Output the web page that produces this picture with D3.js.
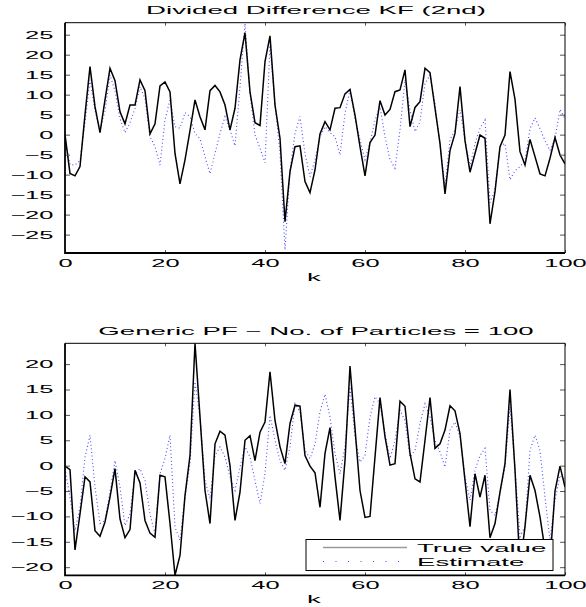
<!DOCTYPE html>
<html>
<head>
<meta charset="utf-8">
<script src="https://cdn.jsdelivr.net/npm/d3@7"></script>
<style>
  body { margin: 0; background: #fff; }
  text { font-family: "Liberation Sans", Arial, Helvetica, sans-serif; fill: #000; }
</style>
</head>
<body>
<script>
// time steps
const k = d3.range(0, 101);

// Divided Difference KF (2nd) - true value and estimate
const kfTrue = [0, -9.7, -10.3, -8, 5, 17, 7, 0.5, 8.7, 16.6,
  13.5, 5.7, 2.7, 7.4, 7.4, 13.7, 11, 0.2, 2.7, 12.2,
  13.2, 10.7, -4.7, -12.3, -6.3, 1, 8.7, 4.5, 1.2, 11,
  12.3, 10.7, 7.4, 1.2, 6.6, 18.7, 25.5, 10.7, 3, 2.3,
  18.3, 24.7, 7.4, -0.9, -21.75, -9.25, -3, -2.8, -11.75, -14.5,
  -8.8, 0.2, 3.25, 1.2, 6.6, 6.75, 10.2, 11.3, 4.9, -3,
  -10.3, -2, -0.1, 8.5, 4.9, 6.3, 10.75, 11.2, 16.2, 2,
  6.8, 8.25, 16.6, 15.5, 6.6, -2.2, -14.8, -4, 0.3, 12,
  -1.5, -9.4, -4.7, -0.1, -0.9, -22.3, -14.25, -3, -0.1, 15.75,
  8.8, -4.25, -7.6, -1.2, -5.5, -9.8, -10.3, -5.9, -0.7, -5.1,
  -7.3];
const kfEst = [-1, -7.5, -7.6, -6.5, 3, 13.7, 6, 1, 6, 14.9,
  11, 4, 0.5, 3, 6.5, 12, 9, -0.5, -3, -7.6,
  3.7, 8.7, 2, 1.6, 5.5, 4.5, 0.3, -1, -5.5, -9.8,
  -4.7, 0.3, 4.5, 1.2, -2.8, 12, 27.8, 10.3, -0.1, -3.4,
  -7, 22.4, 7.8, -4.7, -28.8, -8.8, 0.3, 4.5, -4.7, -10.5,
  -6.3, -0.5, 2, 0.5, -0.5, -5.1, 5.3, 11.2, 4, -1.3,
  -6.3, -2, 3.7, 7, -0.5, -6.3, -8.4, 1.2, 13.7, 6.2,
  0.75, 3.25, 12.8, 14.9, 7.8, -2.6, -13, -1.3, 1.2, 6.2,
  -1.3, -8, -2.2, 1.6, 3.7, -17, -13.8, -3, -2.2, -11.3,
  -9, -8, -6.5, 1.5, 4.2, 1.5, -1.5, -4, -1, 6.3,
  4];

// Generic PF - true value and estimate
const pfTrue = [-0.1, -0.8, -16.6, -9.5, -2.2, -3.2, -12.8, -13.9, -11.1, -6.2,
  -0.6, -10.5, -14.2, -12.6, -0.9, -3.4, -10.8, -13.3, -14.1, -1.9,
  -2.2, -11.4, -21.6, -17.7, -5.9, 2, 24.1, 9.6, -4.9, -11.4,
  4.3, 6.8, 6, 0, -10.8, -5.2, 5, 5.9, 1, 6.6,
  8.6, 18.5, 8.9, 3.7, 0.4, 8.3, 11.9, 11.7, 2, -0.1,
  -1.4, -8.2, 2.4, 7.5, -2.2, -10.8, 1, 19.6, 7.3, -4.9,
  -10.2, -10, 1.7, 13.4, 5.7, 0.1, 0.4, 12.7, 11.7, 2.4,
  -2.6, -3.2, 5, 13.4, 3.4, 4.3, 7, 11.8, 10.8, 6.3,
  -2.9, -12, -1.6, -6.2, -1.9, -14.2, -11.4, -5.2, 0.4, 15,
  -0.9, -20, -12, -1.9, -4.9, -10.1, -16.6, -19, -5, -0.1,
  -4.2];
const pfEst = [-0.6, -6.2, -12.8, -8.2, 1.7, 6, -4.2, -11.4, -10.8, -5.2,
  1, -4.2, -11.8, -9.5, -1.6, -0.6, -2.9, -9.5, -13.4, -1.6,
  1.4, 6, -12.1, -14.7, -6.2, 0.4, 16.5, 9.6, -2.9, -6.5,
  2, 3.7, 1.7, -2.2, -4.9, -0.3, 3.7, 1.7, -2.9, -7.5,
  -1.6, 9.9, 5, 1, -0.9, 3.7, 12.2, 10.6, 3, 1.4,
  4.3, 10.6, 14.1, 9.6, 2.4, -1.6, 3.7, 15.5, 5.7, 0.7,
  2, 9.6, 13.6, 12.2, 6.3, 1.4, 5, 10.9, 8.9, 1.7,
  3, 8.3, 12.2, 9.6, 5, 2.7, -0.3, 7, 8.6, 5.7,
  -2.2, -6.8, -0.9, 2, 3.4, -8.8, -9.8, -5.5, -0.3, 11.6,
  -0.3, -14, -12, 3, 6, 3, -6.2, -14.7, -6.8, -1.9,
  -2.9];

const xTicks = [0, 20, 40, 60, 80, 100];
const kfYTicks = [-25, -20, -15, -10, -5, 0, 5, 10, 15, 20, 25];
const pfYTicks = [-20, -15, -10, -5, 0, 5, 10, 15, 20];
const titles = ["Divided Difference KF (2nd)", "Generic PF \u2212 No. of Particles = 100"];
const xLabel = "k";
const legendLabels = ["True value", "Estimate"];

// the reference text is drawn very wide, so every label is stretched sideways
const SX = 2.4;
function stretch(sel) {
  sel.each(function () {
    const t = d3.select(this);
    const x = +t.attr("x") || 0, y = +t.attr("y") || 0;
    t.attr("transform", `translate(${x},${y}) scale(${SX},1)`).attr("x", 0).attr("y", 0);
  });
}

const svg = d3.select("body").append("svg")
  .attr("width", 586)
  .attr("height", 607);
svg.append("rect").attr("width", 586).attr("height", 607).attr("fill", "#fff");

const left = 65, right = 565;

function drawPanel(p, idx) {
  const x = d3.scaleLinear().domain([0, 100]).range([left, right]);
  const y = d3.scaleLinear().domain(p.yDomain).range([p.bottom, p.top]);

  const clipId = "clip" + idx;
  svg.append("clipPath").attr("id", clipId)
    .append("rect")
    .attr("x", left).attr("y", p.top)
    .attr("width", right - left).attr("height", p.bottom - p.top);

  const line = d3.line().x((d, i) => x(k[i])).y(d => y(d));

  const g = svg.append("g").attr("clip-path", `url(#${clipId})`);
  // estimate (dotted blue)
  g.append("path")
    .datum(p.est)
    .attr("fill", "none")
    .attr("stroke", "#4a4aff")
    .attr("stroke-width", 1.1)
    .attr("stroke-dasharray", "1 2.6")
    .attr("d", line);
  // true value (solid black)
  g.append("path")
    .datum(p.tru)
    .attr("fill", "none")
    .attr("stroke", "#000")
    .attr("stroke-width", 1.5)
    .attr("stroke-linejoin", "miter")
    .attr("d", line);

  // axes with inward ticks
  const ax = (sel) => { sel.select(".domain").remove(); sel.selectAll("line").attr("stroke", "#555"); };

  const yl = svg.append("g")
    .attr("transform", `translate(${left},0)`)
    .call(d3.axisLeft(y).tickValues(p.yTicks).tickSize(-5).tickSizeOuter(0).tickPadding(11.7))
    .call(ax);
  yl.selectAll("text").attr("font-size", 10.6).attr("font-family", null).attr("fill", "#000").call(stretch);

  svg.append("g")
    .attr("transform", `translate(${right},0)`)
    .call(d3.axisRight(y).tickValues(p.yTicks).tickSize(-5).tickSizeOuter(0).tickFormat(""))
    .call(ax);

  const xb = svg.append("g")
    .attr("transform", `translate(0,${p.bottom})`)
    .call(d3.axisBottom(x).tickValues(xTicks).tickSize(-3).tickSizeOuter(0).tickPadding(6.4))
    .call(ax);
  xb.selectAll("text").attr("font-size", 10.6).attr("font-family", null).attr("fill", "#000").call(stretch);

  svg.append("g")
    .attr("transform", `translate(0,${p.top})`)
    .call(d3.axisTop(x).tickValues(xTicks).tickSize(-3).tickSizeOuter(0).tickFormat(""))
    .call(ax);

  // box
  svg.append("path")
    .attr("d", `M${left},${p.top}H${right}V${p.bottom}`)
    .attr("fill", "none").attr("stroke", "#000").attr("stroke-width", 1);
  svg.append("path")
    .attr("d", `M${left},${p.top}V${p.bottom}H${right}`)
    .attr("fill", "none").attr("stroke", "#000").attr("stroke-width", 1.8);

  // title and x label
  svg.append("text")
    .attr("x", (left + right) / 2 + 1).attr("y", p.top - 8.5)
    .attr("text-anchor", "middle")
    .attr("font-size", 11.5)
    .text(p.title)
    .call(stretch);
  svg.append("text")
    .attr("x", (left + right) / 2 - 1).attr("y", p.bottom + 27.5)
    .attr("text-anchor", "middle")
    .attr("font-size", 11.5)
    .text(xLabel)
    .call(stretch);

  if (p.legend) {
    const lg = svg.append("g");
    lg.append("rect")
      .attr("x", 306).attr("y", 539.5)
      .attr("width", 247).attr("height", 31)
      .attr("fill", "#fff").attr("stroke", "#000").attr("stroke-width", 1);
    lg.append("line")
      .attr("x1", 323).attr("x2", 407).attr("y1", 547.5).attr("y2", 547.5)
      .attr("stroke", "#9a9a9a").attr("stroke-width", 1.6);
    lg.append("line")
      .attr("x1", 323).attr("x2", 407).attr("y1", 561.5).attr("y2", 561.5)
      .attr("stroke", "#4a4aff").attr("stroke-width", 1.1)
      .attr("stroke-dasharray", "1 11.5");
    lg.selectAll("text.lab")
      .data(legendLabels)
      .join("text")
      .attr("class", "lab")
      .attr("x", 417)
      .attr("y", (d, i) => 552.3 + i * 13.6)
      .attr("font-size", 11.5)
      .text(d => d)
      .call(stretch);
  }
}

drawPanel({
  top: 22.7, bottom: 253, yDomain: [-29.6, 28], yTicks: kfYTicks,
  tru: kfTrue, est: kfEst, title: titles[0], legend: false
}, 0);

drawPanel({
  top: 343.3, bottom: 575.3, yDomain: [-21.6, 24.1], yTicks: pfYTicks,
  tru: pfTrue, est: pfEst, title: titles[1], legend: true
}, 1);
</script>
</body>
</html>
